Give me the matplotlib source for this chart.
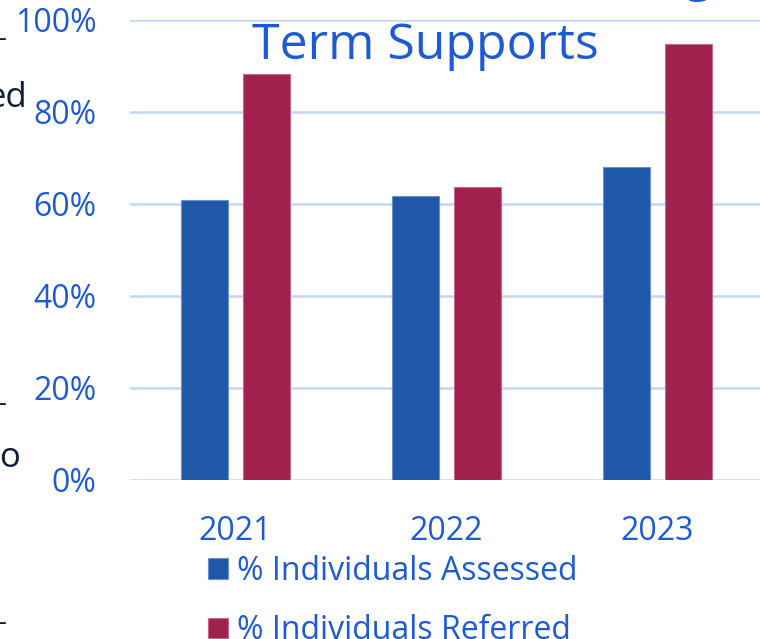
import numpy as np
import matplotlib
matplotlib.use("Agg")
from matplotlib import pyplot as plt

plt.rcParams['font.family'] = ['Open Sans', 'DejaVu Sans']

# data
years = ['2021', '2022', '2023']
assessed = [60.9, 61.8, 68.0]
referred = [88.3, 63.7, 94.8]
series_names = ['% Individuals Assessed', '% Individuals Referred']
yticks = [0, 20, 40, 60, 80, 100]

blue = '#1f58a8'
red = '#a1214e'
text_blue = '#1c5ad6'
grid_col = '#c3d8f7'
navy = '#0e1f3d'

W, H = 760, 639
fig = plt.figure(figsize=(W / 100, H / 100), dpi=100)
ax = fig.add_axes([130 / W, 1 - 480 / H, 633 / W, 460 / H])

x = np.arange(len(years))
bw = 0.223
off = 0.145
ax.bar(x - off, assessed, bw, color=blue, edgecolor='#6d93cf', linewidth=0.8,
       label=series_names[0], zorder=3)
ax.bar(x + off, referred, bw, color=red, edgecolor='#c7678c', linewidth=0.8,
       label=series_names[1], zorder=3)

ax.set_xlim(-0.5, 2.5)
ax.set_ylim(0, 100)
ax.set_yticks(yticks)
ax.set_yticklabels([f'{v}%' for v in yticks])
ax.set_xticks(x)
ax.set_xticklabels(years)
ax.tick_params(axis='y', length=0, pad=24, labelsize=23, labelcolor=text_blue)
ax.tick_params(axis='x', length=0, pad=25, labelsize=23, labelcolor=text_blue)
ax.yaxis.grid(True, color=grid_col, linewidth=1.8, zorder=0)
ax.set_axisbelow(True)
for s in ax.spines.values():
    s.set_visible(False)
ax.patch.set_alpha(0)

# title (first line cut off by the crop)
fig.text(425 / W, 1 - 46 / H, 'Term Supports', ha='center', va='center',
         fontsize=36, color=text_blue)
fig.text(712 / W, 1 + 10 / H, 'Long', ha='right', va='baseline',
         fontsize=36, color=text_blue)

# legend
fig.legend(loc='upper left', bbox_to_anchor=(208 / W, 1 - 555 / H),
           frameon=False, fontsize=23, labelcolor=text_blue,
           handlelength=0.62, handleheight=0.62, handletextpad=0.3,
           labelspacing=0.82, borderpad=0, borderaxespad=0)

# fragments of neighbouring text at the left edge
fig.text(27 / W, 1 - 107 / H, 'ed', ha='right', va='baseline', fontsize=25, color=navy)
fig.text(20 / W, 1 - 467 / H, 'o', ha='right', va='baseline', fontsize=25, color=navy)
for yy in [39, 404, 623]:
    fig.text(7 / W, 1 - yy / H, '-', ha='right', va='center', fontsize=20, color=navy)

fig.savefig('out.png', dpi=100)
